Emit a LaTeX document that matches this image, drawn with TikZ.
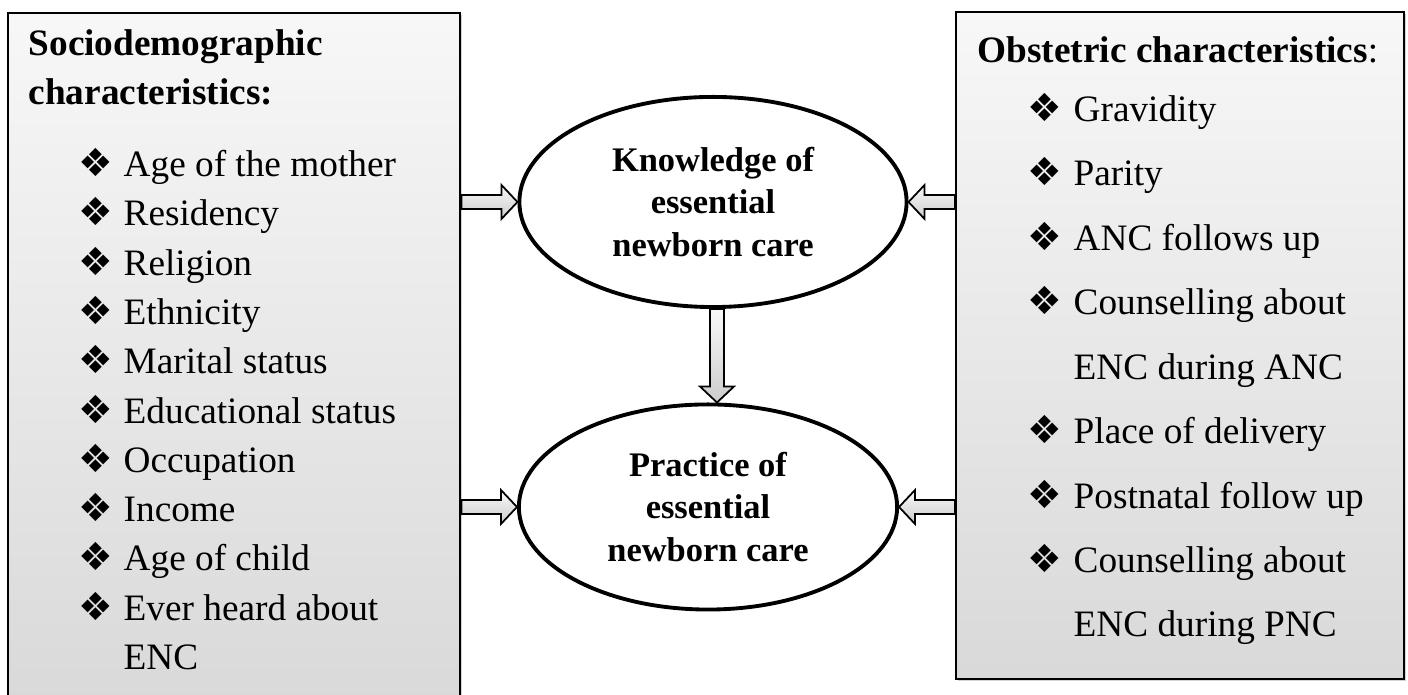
\documentclass[tikz,border=0pt]{standalone}
\usepackage{fontspec}
\setmainfont{Liberation Serif}
\newfontfamily\dingfont{DejaVu Sans}
\usetikzlibrary{calc,shapes.geometric,shadows}

\newcommand{\fatarrow}[2]{%
\coordinate (hb) at ($(#2)!0.16cm!(#1)$);
\path[fatarr] ($(#1)!0.07cm!90:(#2)$) -- ($(hb)!0.07cm!90:(#2)$) -- ($(hb)!0.17cm!90:(#2)$) -- (#2) -- ($(hb)!0.17cm!-90:(#2)$) -- ($(hb)!0.07cm!-90:(#2)$) -- ($(#1)!0.07cm!-90:(#2)$) -- cycle;}

\tikzset{
factorbox/.style={draw=black, line width=0.6pt, top color=gray!6, bottom color=gray!30, anchor=north west, inner sep=0pt, drop shadow={opacity=0.35, shadow xshift=0.02cm, shadow yshift=-0.02cm}},
outcome/.style={ellipse, draw=black, line width=1.1pt, fill=white, inner sep=0pt, minimum width=3.87cm, minimum height=2.1cm, align=center, font=\fontsize{9.8}{12.1}\selectfont\bfseries},
head/.style={anchor=base west, inner sep=0pt, font=\fontsize{10.6}{13}\selectfont\bfseries},
item/.style={anchor=base west, inner sep=0pt, font=\fontsize{10.6}{13}\selectfont},
bul/.style={anchor=base west, inner sep=0pt, font=\dingfont\fontsize{11}{12}\selectfont},
fatarr/.style={draw=black, line width=0.5pt, top color=gray!5, bottom color=gray!40}
}

\begin{document}
\begin{tikzpicture}[x=0.01cm,y=-0.01cm]
\useasboundingbox (0,0) rectangle (1408,695);
\node[factorbox, minimum width=4.52cm, minimum height=6.95cm] (sociobox) at (7,12) {};
\node[factorbox, minimum width=4.48cm, minimum height=6.67cm] (obsbox) at (955,11) {};
\node[head] (s0a) at (28,56) {Sociodemographic};
\node[head] (s0b) at (28,105) {characteristics:};
\node[bul] (b1) at (78,177) {❖};
\node[item] (s1) at (123,177) {Age of the mother};
\node[bul] (b2) at (78,226) {❖};
\node[item] (s2) at (123,226) {Residency};
\node[bul] (b3) at (78,276) {❖};
\node[item] (s3) at (123,276) {Religion};
\node[bul] (b4) at (78,325) {❖};
\node[item] (s4) at (123,325) {Ethnicity};
\node[bul] (b5) at (78,374) {❖};
\node[item] (s5) at (123,374) {Marital status};
\node[bul] (b6) at (78,424) {❖};
\node[item] (s6) at (123,424) {Educational status};
\node[bul] (b7) at (78,473) {❖};
\node[item] (s7) at (123,473) {Occupation};
\node[bul] (b8) at (78,522) {❖};
\node[item] (s8) at (123,522) {Income};
\node[bul] (b9) at (78,571) {❖};
\node[item] (s9) at (123,571) {Age of child};
\node[bul] (b10) at (78,621) {❖};
\node[item] (s10) at (123,621) {Ever heard about};
\node[item] (s11) at (123,670) {ENC};
\node[head] (o0) at (977,63) {Obstetric characteristics\mdseries:};
\node[bul] (c1) at (1027,122) {❖};
\node[item] (o1) at (1073,122) {Gravidity};
\node[bul] (c2) at (1027,186) {❖};
\node[item] (o2) at (1073,186) {Parity};
\node[bul] (c3) at (1027,251) {❖};
\node[item] (o3) at (1073,251) {ANC follows up};
\node[bul] (c4) at (1027,315) {❖};
\node[item] (o4) at (1073,315) {Counselling about};
\node[item] (o5) at (1073,380) {ENC during ANC};
\node[bul] (c6) at (1027,444) {❖};
\node[item] (o6) at (1073,444) {Place of delivery};
\node[bul] (c7) at (1027,509) {❖};
\node[item] (o7) at (1073,509) {Postnatal follow up};
\node[bul] (c8) at (1027,573) {❖};
\node[item] (o8) at (1073,573) {Counselling about};
\node[item] (o9) at (1073,637) {ENC during PNC};
\node[outcome] (know) at (713,202) {Knowledge of\\essential\\newborn care};
\node[outcome, minimum width=3.78cm, minimum height=2.05cm] (prac) at (708,507) {Practice of\\essential\\newborn care};
\coordinate (kl) at (sociobox.east |- know.west);
\coordinate (kr) at (obsbox.west |- know.east);
\coordinate (pl) at (sociobox.east |- prac.west);
\coordinate (pr) at (obsbox.west |- prac.east);
\coordinate (kd) at (know.south -| 717,0);
\coordinate (pu) at (kd |- prac.north);
\fatarrow{kl}{know.west}
\fatarrow{kr}{know.east}
\fatarrow{pl}{prac.west}
\fatarrow{pr}{prac.east}
\fatarrow{kd}{pu}
\end{tikzpicture}
\end{document}
